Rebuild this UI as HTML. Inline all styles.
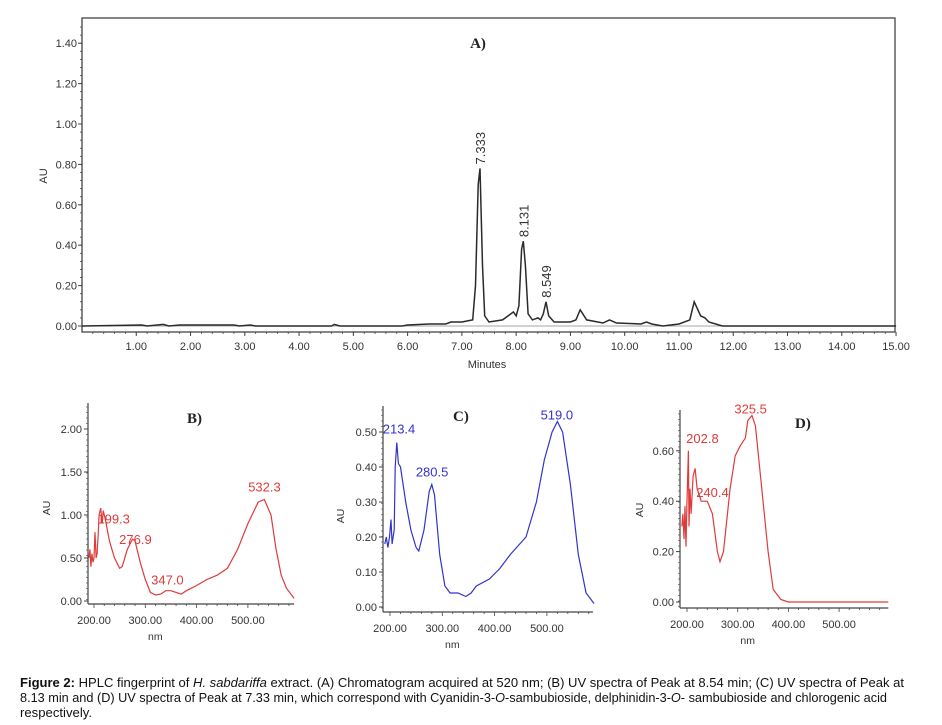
<!DOCTYPE html>
<html><head><meta charset="utf-8"><style>
html,body{margin:0;padding:0;background:#fff;}
svg{display:block;font-family:"Liberation Sans",Arial,sans-serif;}
</style></head><body>
<svg id="fig" width="942" height="725" viewBox="0 0 942 725"></svg>
<script>
// ---- Chromatogram (A) data ----
const chromTimes = [0,1.1,1.2,1.5,1.6,1.8,2.8,2.9,3.1,3.2,4.6,4.65,4.75,5.9,6.0,6.4,6.7,6.8,7.0,7.2,7.25,7.3,7.333,7.38,7.42,7.5,7.75,7.95,8.0,8.05,8.1,8.131,8.17,8.22,8.3,8.4,8.45,8.5,8.549,8.6,8.7,9.0,9.1,9.18,9.3,9.6,9.72,9.85,10.3,10.4,10.5,10.7,11.0,11.2,11.28,11.4,11.48,11.55,11.8,15];
const chromAU = [0,0.005,0,0.008,0,0.005,0.005,0,0.005,0,0,0.008,0,0,0.005,0.01,0.01,0.02,0.02,0.03,0.2,0.7,0.78,0.3,0.05,0.02,0.03,0.07,0.05,0.1,0.38,0.42,0.3,0.06,0.03,0.04,0.03,0.06,0.12,0.05,0.02,0.02,0.03,0.08,0.03,0.015,0.03,0.015,0.01,0.02,0.01,0,0.01,0.03,0.12,0.05,0.04,0.02,0,0];
const chromXTicks = [1,2,3,4,5,6,7,8,9,10,11,12,13,14,15];
const chromYTicks = [0,0.2,0.4,0.6,0.8,1.0,1.2,1.4];
const chromPeakTimes = [7.333,8.131,8.549];
const chromPeakAU = [0.78,0.42,0.12];
const chromPeakLabels = ["7.333","8.131","8.549"];
// ---- Spectrum B ----
const specBnm = [190,192,194,196,198,200,202,204,206,208,210,213,216,218,222,230,240,250,255,265,275,280,290,300,310,320,330,340,350,360,370,380,400,420,440,460,480,500,520,532,545,555,565,575,590];
const specBau = [0.5,0.6,0.4,0.55,0.45,0.5,0.8,0.5,0.55,0.75,1.0,1.08,0.9,1.05,0.95,0.7,0.5,0.38,0.4,0.6,0.72,0.7,0.45,0.25,0.1,0.07,0.08,0.12,0.12,0.1,0.08,0.12,0.18,0.25,0.3,0.38,0.6,0.9,1.15,1.18,1.0,0.6,0.3,0.15,0.03];
const specBLabels = ["199.3","276.9","347.0","532.3"];
const specBLabelNm = [199.3,276.9,347.0,532.3];
const specBLabelAU = [0.95,0.72,0.12,1.18];
const specBYTicks = [0,0.5,1.0,1.5,2.0];
// ---- Spectrum C ----
const specCnm = [190,193,196,199,202,204,206,208,210,213,216,220,230,240,250,255,265,275,280,285,295,305,315,330,345,355,365,390,410,430,460,480,495,510,520,530,545,560,575,590];
const specCau = [0.18,0.2,0.17,0.2,0.25,0.18,0.2,0.22,0.4,0.47,0.41,0.4,0.3,0.22,0.17,0.16,0.22,0.33,0.35,0.32,0.15,0.06,0.04,0.04,0.03,0.04,0.06,0.08,0.11,0.15,0.2,0.3,0.42,0.5,0.53,0.5,0.35,0.15,0.04,0.01];
const specCLabels = ["213.4","280.5","519.0"];
const specCLabelNm = [213.4,280.5,519.0];
const specCLabelAU = [0.47,0.35,0.53];
const specCYTicks = [0,0.1,0.2,0.3,0.4,0.5];
// ---- Spectrum D ----
const specDnm = [190,192,194,196,198,200,202.8,204,206,208,212,216,220,228,240,250,260,265,272,285,295,305,315,320,328,335,345,360,370,385,400,597];
const specDau = [0.3,0.35,0.25,0.38,0.22,0.4,0.6,0.3,0.45,0.35,0.5,0.53,0.45,0.4,0.4,0.35,0.2,0.16,0.2,0.45,0.58,0.62,0.65,0.72,0.74,0.7,0.5,0.2,0.05,0.01,0,0];
const specDLabels = ["202.8","240.4","325.5"];
const specDLabelNm = [202.8,240.4,325.5];
const specDLabelAU = [0.6,0.4,0.74];
const specDYTicks = [0,0.2,0.4,0.6];
const specXTicks = [200,300,400,500];

const NS="http://www.w3.org/2000/svg";
const svg=document.getElementById('fig');
function el(tag,attrs,parent){const e=document.createElementNS(NS,tag);for(const k in attrs)e.setAttribute(k,attrs[k]);(parent||svg).appendChild(e);return e;}
function txt(s,attrs,parent){const e=el('text',attrs,parent);e.textContent=s;return e;}

// ---------- Panel A ----------
(function(){
  const g=el('g',{});
  
  
  const X=t=>82+t*54.27, Y=v=>326-v*202;
  const box=el('rect',{x:82,y:18,width:813,height:314,fill:'none',stroke:'#444','stroke-width':1.3},g);
  
  
  el('line',{x1:82,y1:326,x2:895,y2:326,stroke:'#888','stroke-width':0.8},g);
  for(let t=0.2;t<15;t+=0.2){el('line',{x1:X(t),y1:332,x2:X(t),y2:334,stroke:'#444','stroke-width':0.8},g);}
  chromXTicks.forEach(t=>{
    el('line',{x1:X(t),y1:332,x2:X(t),y2:336,stroke:'#444'},g);
    const l=txt(t.toFixed(2),{x:X(t),y:350,'font-size':11,'text-anchor':'middle',fill:'#333'},g);
    
    
  });
  for(let v=0.04;v<1.5;v+=0.04){el('line',{x1:80,y1:Y(v),x2:82,y2:Y(v),stroke:'#444','stroke-width':0.8},g);}
  chromYTicks.forEach(v=>{
    el('line',{x1:78,y1:Y(v),x2:82,y2:Y(v),stroke:'#444'},g);
    const l=txt(v.toFixed(2),{x:77,y:Y(v)+4,'font-size':11,'text-anchor':'end',fill:'#333'},g);
    
    
  });
  const yt=txt('AU',{x:0,y:0,'font-size':11,fill:'#333','text-anchor':'middle',transform:'translate(47,176) rotate(-90)'},g);
  
  
  const xt=txt('Minutes',{x:487,y:368,'font-size':11,fill:'#333','text-anchor':'middle'},g);
  
  
  const tt=txt('A)',{x:478,y:48,'font-size':15,'font-weight':'bold','font-family':'"Liberation Serif",serif',fill:'#222','text-anchor':'middle'},g);
  
  
  let d='';chromTimes.forEach((t,i)=>{d+=(i?'L':'M')+X(t).toFixed(1)+' '+Y(chromAU[i]).toFixed(1);});
  const p=el('path',{d:d,fill:'none',stroke:'#2a2a2a','stroke-width':1.5},g);
  
  
  chromPeakTimes.forEach((t,i)=>{
    const x=X(t), y=Y(chromPeakAU[i])-4;
    const l=txt(chromPeakLabels[i],{x:0,y:0,'font-size':13,fill:'#333',transform:`translate(${x+5},${y}) rotate(-90)`},g);
    
    
  });
})();

// ---------- spectra panels ----------
function spectrum(cfg){
  const g=el('g',{});
  
  
  const X=n=>cfg.x200+(n-200)*cfg.pxnm, Y=v=>cfg.y0-v*cfg.pxau;
  const left=cfg.axisX, right=X(cfg.nmMax), bottom=cfg.axisY;
  el('line',{x1:left,y1:cfg.top,x2:left,y2:bottom,stroke:'#444','stroke-width':1.2},g);
  el('line',{x1:left,y1:bottom,x2:right,y2:bottom,stroke:'#444','stroke-width':1.2},g);
  for(let n=200;n<=cfg.nmMax;n+=20){el('line',{x1:X(n),y1:bottom,x2:X(n),y2:bottom+(n%100?2:4),stroke:'#444','stroke-width':0.8},g);}
  specXTicks.forEach(n=>{
    const l=txt(n.toFixed(2),{x:X(n),y:bottom+20,'font-size':11,'text-anchor':'middle',fill:'#333'},g);
    
    
  });
  for(let y=cfg.top+4;y<bottom;y+=5.5){el('line',{x1:left-2,y1:y,x2:left,y2:y,stroke:'#444','stroke-width':0.6},g);}
  cfg.yticks.forEach(v=>{
    el('line',{x1:left-4,y1:Y(v),x2:left,y2:Y(v),stroke:'#444'},g);
    const l=txt(v.toFixed(2),{x:left-6,y:Y(v)+4,'font-size':11,'text-anchor':'end',fill:'#333'},g);
    
    
  });
  const yt=txt('AU',{x:0,y:0,'font-size':10.5,fill:'#333','text-anchor':'middle',transform:`translate(${cfg.auX},${cfg.auY}) rotate(-90)`},g);
  
  
  const xt=txt('nm',{x:(X(200)+X(400))/2+10,y:bottom+36,'font-size':10.5,fill:'#333','text-anchor':'middle'},g);
  
  
  const tt=txt(cfg.title,{x:cfg.titleX,y:cfg.titleY,'font-size':15,'font-weight':'bold','font-family':'"Liberation Serif",serif',fill:'#222'},g);
  
  
  let d='';cfg.nm.forEach((n,i)=>{d+=(i?'L':'M')+X(n).toFixed(1)+' '+Y(cfg.au[i]).toFixed(1);});
  const p=el('path',{d:d,fill:'none',stroke:cfg.color,'stroke-width':1.2},g);
  
  
  cfg.labels.forEach((s,i)=>{
    const l=txt(s,{x:X(cfg.labelNm[i])+cfg.dx[i],y:Y(cfg.labelAU[i])-cfg.dy[i],'font-size':13,fill:cfg.color,'text-anchor':'middle'},g);
    
    
  });
}
spectrum({name:'spectrum-panel-b',title:'B)',titleX:187,titleY:423,x200:94,pxnm:0.513,y0:601,pxau:86,axisX:88,axisY:604,top:403,nmMax:590,yticks:specBYTicks,auX:50,auY:508,color:'#e03a3a',nm:specBnm,au:specBau,labels:specBLabels,labelNm:specBLabelNm,labelAU:specBLabelAU,dx:[20,2,-2,0],dy:[-4,-5,6,8]});
spectrum({name:'spectrum-panel-c',title:'C)',titleX:453,titleY:421,x200:390,pxnm:0.523,y0:607,pxau:350,axisX:383,axisY:612,top:406,nmMax:588,yticks:specCYTicks,auX:344,auY:516,color:'#3333cc',nm:specCnm,au:specCau,labels:specCLabels,labelNm:specCLabelNm,labelAU:specCLabelAU,dx:[2,0,0],dy:[9,8,2]});
spectrum({name:'spectrum-panel-d',title:'D)',titleX:795,titleY:428,x200:687,pxnm:0.507,y0:602,pxau:252,axisX:680,axisY:608,top:410,nmMax:597,yticks:specDYTicks,auX:643,auY:510,color:'#e03a3a',nm:specDnm,au:specDau,labels:specDLabels,labelNm:specDLabelNm,labelAU:specDLabelAU,dx:[14,5,0],dy:[8,4,2]});
</script>
<svg width="942" height="60" style="position:absolute;left:0;top:665">
<text x="20" y="22" font-size="12.5" fill="#111" textLength="884" lengthAdjust="spacingAndGlyphs"><tspan font-weight="bold">Figure 2:</tspan> HPLC fingerprint of <tspan font-style="italic">H. sabdariffa</tspan> extract. (A) Chromatogram acquired at 520 nm; (B) UV spectra of Peak at 8.54 min; (C) UV spectra of Peak at</text>
<text x="20" y="37" font-size="12.5" fill="#111" textLength="867" lengthAdjust="spacingAndGlyphs">8.13 min and (D) UV spectra of Peak at 7.33 min, which correspond with Cyanidin-3-<tspan font-style="italic">O</tspan>-sambubioside, delphinidin-3-<tspan font-style="italic">O</tspan>- sambubioside and chlorogenic acid</text>
<text x="20" y="52" font-size="12.5" fill="#111" textLength="72" lengthAdjust="spacingAndGlyphs">respectively.</text>
</svg>
</body></html>
